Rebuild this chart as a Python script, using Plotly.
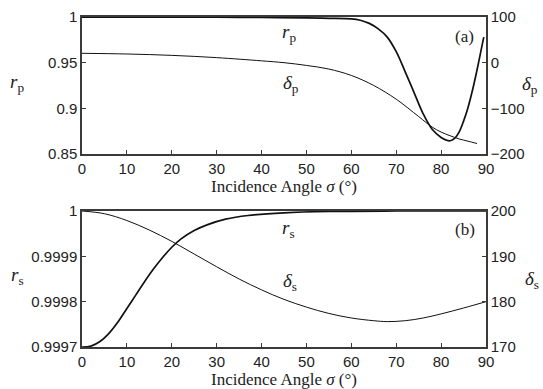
import plotly.graph_objects as go

# ---- data ----
x_rp = [0, 10, 20, 30, 40, 50, 55, 60, 62, 64, 66, 68, 70, 72, 74, 76, 78, 80, 81, 82, 83, 84, 85, 86, 87, 88, 89, 89.5]
r_p = [0.9999, 0.9999, 0.9998, 0.9997, 0.9995, 0.999, 0.9986, 0.998, 0.9965, 0.993, 0.987, 0.978, 0.962,
       0.940, 0.917, 0.894, 0.877, 0.868, 0.8655, 0.8645, 0.867, 0.874, 0.886, 0.901, 0.920, 0.942, 0.966, 0.978]

x_dp = [0, 10, 20, 30, 40, 45, 50, 55, 60, 65, 70, 75, 78, 80, 82, 84, 86, 88]
delta_p = [20.5, 19, 16, 11, 4, 0, -6, -14, -28, -50, -80, -118, -141, -152, -160, -167, -172, -177]

x_rs = [0, 2, 4, 6, 8, 10, 12, 14, 16, 18, 20, 22, 25, 28, 32, 37, 45, 55, 70, 90]
r_s = [0.99970, 0.999702, 0.999712, 0.999730, 0.999755, 0.999785, 0.999815, 0.999845, 0.999873, 0.999898,
       0.999920, 0.999938, 0.999957, 0.999970, 0.999982, 0.999990, 0.999996, 0.999999, 1.0, 1.0]

x_ds = [0, 5, 10, 15, 20, 25, 30, 35, 40, 45, 50, 55, 60, 65, 68, 72, 76, 80, 85, 90]
delta_s = [200, 199.4, 197.9, 195.8, 193.3, 190.5, 187.7, 185.0, 182.6, 180.5, 178.8, 177.4, 176.4, 175.8,
           175.6, 175.8, 176.4, 177.3, 178.6, 180]

x_ticks = [0, 10, 20, 30, 40, 50, 60, 70, 80, 90]
rp_ticks = [0.85, 0.9, 0.95, 1]
rp_ticktext = ["0.85", "0.9", "0.95", "1"]
dp_ticks = [-200, -100, 0, 100]
rs_ticks = [0.9997, 0.9998, 0.9999, 1]
rs_ticktext = ["0.9997", "0.9998", "0.9999", "1"]
ds_ticks = [170, 180, 190, 200]

# ---- figure ----
W, H = 543, 389
xl, xr = 82 / W, 486 / W
top_dom = [1 - 154 / H, 1 - 17 / H]
bot_dom = [1 - 347 / H, 1 - 211 / H]

line_c = "#111111"
frame_c = "#3a3a3a"
tick_font = dict(family="Arial", size=15, color="#222")
serif = "Times New Roman"

fig = go.Figure()
fig.add_trace(go.Scatter(x=x_rp, y=r_p, mode="lines", line=dict(color=line_c, width=1.7, shape="spline"),
                         xaxis="x", yaxis="y", name="r_p"))
fig.add_trace(go.Scatter(x=x_dp, y=delta_p, mode="lines", line=dict(color=line_c, width=1.0, shape="spline"),
                         xaxis="x", yaxis="y2", name="delta_p"))
fig.add_trace(go.Scatter(x=x_rs, y=r_s, mode="lines", line=dict(color=line_c, width=1.7, shape="spline"),
                         xaxis="x2", yaxis="y3", name="r_s"))
fig.add_trace(go.Scatter(x=x_ds, y=delta_s, mode="lines", line=dict(color=line_c, width=1.0, shape="spline"),
                         xaxis="x2", yaxis="y4", name="delta_s"))

common_x = dict(range=[0, 90], tickvals=x_ticks, ticks="inside", ticklen=4, tickcolor=frame_c,
                showline=True, linecolor=frame_c, linewidth=1.5, mirror=True, showgrid=False,
                zeroline=False, tickfont=tick_font, automargin=False,
                title=dict(text="Incidence Angle <i>σ</i> (°)", font=dict(family=serif, size=17, color="#222"),
                           standoff=3))
common_y = dict(ticks="inside", ticklen=4, tickcolor=frame_c, showline=True, linecolor=frame_c,
                linewidth=1.5, showgrid=False, zeroline=False, tickfont=tick_font, automargin=False)

fig.update_layout(
    width=W, height=H,
    margin=dict(l=0, r=0, t=0, b=0),
    paper_bgcolor="white", plot_bgcolor="white",
    showlegend=False,
    font=dict(family="Arial", size=15, color="#222"),
    xaxis=dict(domain=[xl, xr], anchor="y", **common_x),
    yaxis=dict(domain=top_dom, anchor="x", range=[0.85, 1], tickvals=rp_ticks, ticktext=rp_ticktext, **common_y),
    yaxis2=dict(overlaying="y", side="right", anchor="x", range=[-200, 100], tickvals=dp_ticks, **common_y),
    xaxis2=dict(domain=[xl, xr], anchor="y3", **common_x),
    yaxis3=dict(domain=bot_dom, anchor="x2", range=[0.9997, 1], tickvals=rs_ticks, ticktext=rs_ticktext, **common_y),
    yaxis4=dict(overlaying="y3", side="right", anchor="x2", range=[170, 200], tickvals=ds_ticks, **common_y),
)

def ann(text, px, py, size=19):
    fig.add_annotation(text=text, x=px / W, y=1 - py / H, xref="paper", yref="paper",
                       showarrow=False, xanchor="center", yanchor="middle",
                       font=dict(family=serif, size=size, color="#222"))

ann("<i>r</i><sub>p</sub>", 289, 33)
ann("<i>δ</i><sub>p</sub>", 291, 84)
ann("(a)", 464, 36, 17)
ann("<i>r</i><sub>s</sub>", 288, 229)
ann("<i>δ</i><sub>s</sub>", 290, 282)
ann("(b)", 465, 229, 17)
ann("<i>r</i><sub>p</sub>", 17, 83)
ann("<i>δ</i><sub>p</sub>", 530, 85)
ann("<i>r</i><sub>s</sub>", 17, 276)
ann("<i>δ</i><sub>s</sub>", 532, 280)

fig.write_html("out.html")
